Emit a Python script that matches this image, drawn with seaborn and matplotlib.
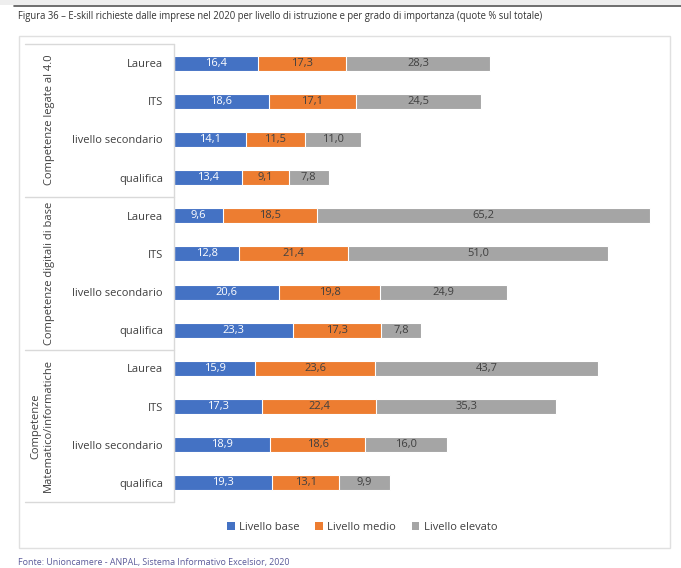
import matplotlib
matplotlib.use("Agg")
import matplotlib.pyplot as plt
from matplotlib.lines import Line2D
from matplotlib.patches import Rectangle, Patch
import seaborn as sns
import pandas as pd
import numpy as np

groups = ["Competenze legate al 4.0", "Competenze digitali di base",
          "Competenze\nMatematico/informatiche"]
levels = ["Laurea", "ITS", "livello secondario", "qualifica"]
series = ["Livello base", "Livello medio", "Livello elevato"]

base = [16.4, 18.6, 14.1, 13.4, 9.6, 12.8, 20.6, 23.3, 15.9, 17.3, 18.9, 19.3]
medio = [17.3, 17.1, 11.5, 9.1, 18.5, 21.4, 19.8, 17.3, 23.6, 22.4, 18.6, 13.1]
elevato = [28.3, 24.5, 11.0, 7.8, 65.2, 51.0, 24.9, 7.8, 43.7, 35.3, 16.0, 9.9]

colors = ["#4472C4", "#ED7D31", "#A5A5A5"]
text_colors = ["white", "#404040", "#404040"]

sns.set_style("white")
plt.rcParams["font.family"] = ["Open Sans", "DejaVu Sans"]

rows = [f"{g}|{l}" for g in range(len(groups)) for l in levels]
df = pd.DataFrame({"row": rows, "base": base, "medio": medio, "elevato": elevato})
df["c1"] = df["base"]
df["c2"] = df["base"] + df["medio"]
df["c3"] = df["c2"] + df["elevato"]

W, H = 681, 568
fig = plt.figure(figsize=(W / 100, H / 100), dpi=100)
ax = fig.add_axes([174 / W, 1 - 502 / H, (661 - 174) / W, (502 - 44) / H])

for col, c in zip(["c3", "c2", "c1"], colors[::-1]):
    sns.barplot(data=df, y="row", x=col, color=c, width=0.39, ax=ax,
                orient="h", edgecolor="white", linewidth=0.8, saturation=1)

vals = [base, medio, elevato]
starts = [np.zeros(12), np.array(base), np.array(base) + np.array(medio)]
for k in range(3):
    for i in range(12):
        v = vals[k][i]
        ax.text(starts[k][i] + v / 2, i, f"{v:.1f}".replace(".", ","),
                ha="center", va="center", fontsize=8, color=text_colors[k])

ax.set_xlim(0, 95.5)
ax.set_ylim(11.5, -0.5)
ax.set_xlabel("")
ax.set_ylabel("")
ax.set_xticks([])
ax.set_yticks(range(12))
ax.set_yticklabels([r.split("|")[1] for r in rows], fontsize=8, color="#404040")
ax.tick_params(axis="y", length=0, pad=8)
for s in ax.spines.values():
    s.set_visible(False)

line_c = "#d9d9d9"
# axis line
fig.add_artist(Line2D([174 / W, 174 / W], [1 - 44 / H, 1 - 502 / H], color=line_c, lw=1))
# group separators
for yb in [44, 197, 350, 502]:
    fig.add_artist(Line2D([25 / W, 174 / W], [1 - yb / H, 1 - yb / H], color=line_c, lw=1))
# outer frame
fig.add_artist(Rectangle((19 / W, 1 - 548 / H), (670 - 19) / W, (548 - 36) / H,
                         fill=False, edgecolor="#e0e0e0", lw=1))
# top bar
fig.add_artist(Rectangle((0, 1 - 5 / H), 1, 5 / H, facecolor="#eeeeee", edgecolor="none"))
fig.add_artist(Line2D([14 / W, 1], [1 - 6 / H, 1 - 6 / H], color="#555555", lw=1.2))

# group labels
gx = [50, 50, 42]
gy = [120, 273, 426]
for g, x, y in zip(groups, gx, gy):
    fig.text(x / W, 1 - y / H, g, rotation=90, ha="center", va="center",
             fontsize=8, color="#404040", linespacing=1.1)

fig.text(18 / W, 1 - 16 / H,
         "Figura 36 – E-skill richieste dalle imprese nel 2020 per livello di istruzione e per grado di importanza (quote % sul totale)",
         fontsize=6.85, color="#333333", va="center", ha="left")
fig.text(18 / W, 1 - 562 / H,
         "Fonte: Unioncamere - ANPAL, Sistema Informativo Excelsior, 2020",
         fontsize=6.4, color="#5b5b9a", va="center", ha="left")

handles = [Patch(facecolor=c, edgecolor="none") for c in colors]
fig.legend(handles, series, loc="center", bbox_to_anchor=(362 / W, 1 - 527 / H),
           ncol=3, frameon=False, fontsize=8, handlelength=0.7, handleheight=0.7,
           columnspacing=1.4, handletextpad=0.4, labelcolor="#404040")

fig.savefig("out.png", dpi=100)
